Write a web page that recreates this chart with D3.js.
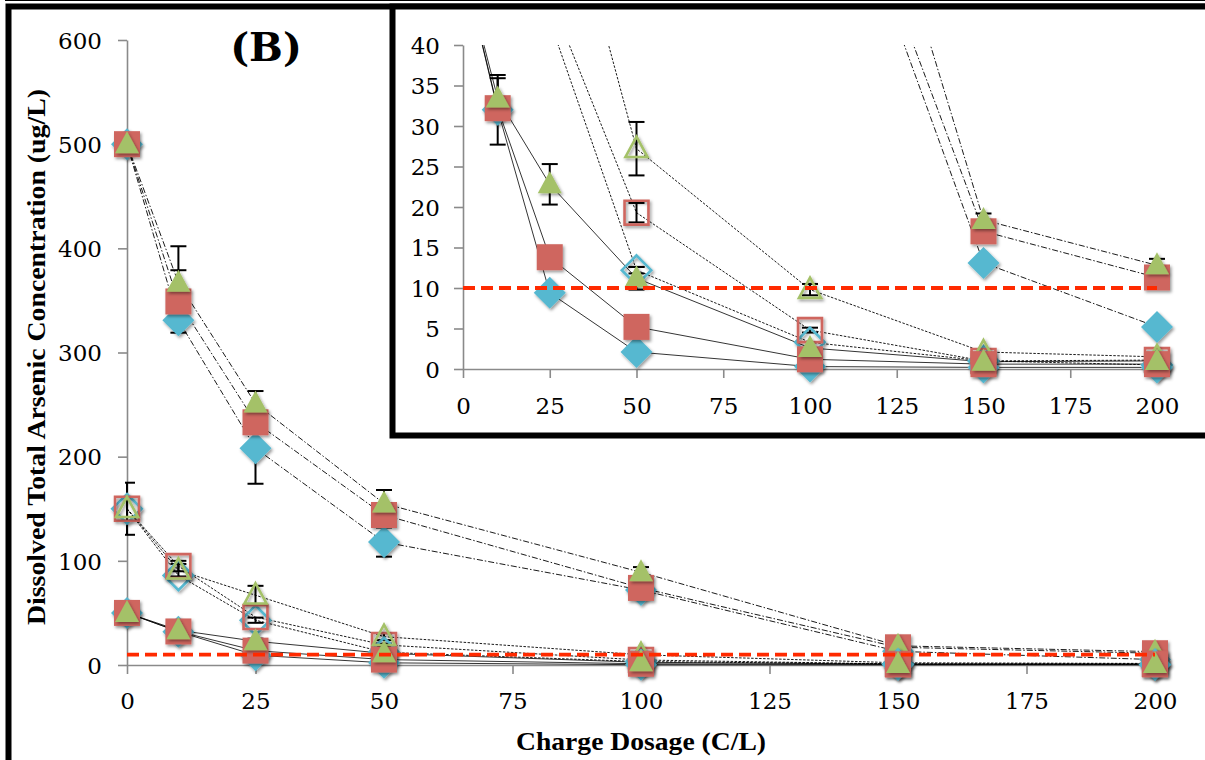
<!DOCTYPE html>
<html>
<head>
<meta charset="utf-8">
<script src="https://cdn.jsdelivr.net/npm/d3@7"></script>
<style>
body { margin: 0; background: #fff; }
svg { display: block; }
</style>
</head>
<body>
<svg id="chart" width="1205" height="760"></svg>
<script>

// Data

var dosage = [0, 10, 25, 50, 100, 150, 200];
var xTicks = [0, 25, 50, 75, 100, 125, 150, 175, 200];
var mainYTicks = [0, 100, 200, 300, 400, 500, 600];
var insetYTicks = [0, 5, 10, 15, 20, 25, 30, 35, 40];
var limitLevel = 10;

// initial 500 ug/L
var as500Diamond  = [500, 331, 208, 118, 72, 13.1, 5.2];
var as500Square   = [500, 349, 233, 144, 74, 17.0, 11.3];
var as500Triangle = [500, 367, 251, 155, 89, 18.4, 12.8];
var err500Diamond  = [null, null, 34, 14, null, null, null];
var err500Square   = [null, 30, null, null, null, null, null];
var err500Triangle = [null, 35, 12, 13, 5, 0.8, 0.8];

// initial 150 ug/L
var as150Diamond  = [150, 86, 43, 12.2, 3.3, 1.0, 0.5];
var as150Square   = [150, 95, 46, 19.3, 4.8, 1.0, 1.1];
var as150Triangle = [150, 91, 67, 27.2, 9.8, 2.1, 1.5];
var err150Diamond  = [null, null, 2.5, 0.4, null, null, null];
var err150Square   = [null, 5, null, 1.2, 0.3, null, null];
var err150Triangle = [25, 6, 9, 3.3, 0.7, null, null];

// initial 50 ug/L
var as50Diamond  = [50, 32.0, 9.4, 2.1, 0.3, 0.2, 0.2];
var as50Square   = [50, 32.2, 13.8, 5.2, 1.2, 0.6, 0.6];
var as50Triangle = [50, 33.4, 22.8, 11.2, 2.6, 0.9, 1.0];
var err50Diamond  = [null, 4.3, null, null, null, null, null];
var err50Square   = [null, null, null, null, null, null, null];
var err50Triangle = [null, 2.5, 2.5, 1.4, null, null, null];

var blue = "#57b8d0", red = "#cf665f", green = "#a4c167";

var series = [
	{values: as500Diamond,  errors: err500Diamond,  shape: "diamond",  color: blue,  hollow: false, dash: "6,2,1.5,2", width: 0.9},
	{values: as500Square,   errors: err500Square,   shape: "square",   color: red,   hollow: false, dash: "6,2,1.5,2", width: 0.9},
	{values: as500Triangle, errors: err500Triangle, shape: "triangle", color: green, hollow: false, dash: "6,2,1.5,2", width: 0.9},
	{values: as150Diamond,  errors: err150Diamond,  shape: "diamond",  color: blue,  hollow: true,  dash: "2.5,1.5", width: 0.9},
	{values: as150Square,   errors: err150Square,   shape: "square",   color: red,   hollow: true,  dash: "2.5,1.5", width: 0.9},
	{values: as150Triangle, errors: err150Triangle, shape: "triangle", color: green, hollow: true,  dash: "2.5,1.5", width: 0.9},
	{values: as50Diamond,   errors: err50Diamond,   shape: "diamond",  color: blue,  hollow: false, dash: null, width: 0.8},
	{values: as50Square,    errors: err50Square,    shape: "square",   color: red,   hollow: false, dash: null, width: 0.8},
	{values: as50Triangle,  errors: err50Triangle,  shape: "triangle", color: green, hollow: false, dash: null, width: 0.8}
];

series.forEach(function (s) {
	s.points = dosage.map(function (d, i) {
		return {x: d, y: s.values[i], e: s.errors[i]};
	});
});

var svg = d3.select("#chart");

var defs = svg.append("defs");

defs.append("filter")
	.attr("id", "shadow")
	.attr("x", "-50%").attr("y", "-50%").attr("width", "200%").attr("height", "200%")
	.append("feDropShadow")
	.attr("dx", 1.5).attr("dy", 2)
	.attr("stdDeviation", 1.6)
	.attr("flood-color", "#000")
	.attr("flood-opacity", 0.4);

function markerPath(shape, hollow) {
	var k = hollow ? 0.92 : 1;
	if (shape == "diamond") {
		var r = 16 * k;
		return "M0," + (-r) + "L" + r + ",0L0," + r + "L" + (-r) + ",0Z";
	}
	if (shape == "square") {
		var a = 13 * k;
		return "M" + (-a) + "," + (-a) + "H" + a + "V" + a + "H" + (-a) + "Z";
	}
	var h = 12 * k;
	return "M0," + (-13 * k) + "L" + h + "," + (9 * k) + "L" + (-h) + "," + (9 * k) + "Z";
}

function drawPanel(g, x, y, yTicks, yMax, clipId, labelRight, xLabelY) {

	var clip = defs.append("clipPath").attr("id", clipId);
	clip.append("rect")
		.attr("x", x(0) - 2)
		.attr("y", y(yMax))
		.attr("width", x(200) - x(0) + 20)
		.attr("height", y(0) - y(yMax) + 30);

	// Axes

	var yAxis = g.append("g")
		.attr("transform", "translate(" + x(0) + ",0)")
		.call(d3.axisLeft(y).tickValues(yTicks).tickSize(9).tickSizeOuter(0).tickFormat(d3.format("d")));

	var xAxis = g.append("g")
		.attr("transform", "translate(0," + y(0) + ")")
		.call(d3.axisBottom(x).tickValues(xTicks).tickSize(9).tickSizeOuter(0).tickFormat(d3.format("d")));

	g.selectAll(".domain, .tick line")
		.attr("stroke", "#8a8a8a")
		.attr("stroke-width", 1.6);

	yAxis.selectAll("text")
		.attr("x", labelRight - x(0))
		.attr("dy", "0.36em");

	xAxis.selectAll("text")
		.attr("y", xLabelY - y(0))
		.attr("dy", 0);

	g.selectAll(".tick text")
		.attr("fill", "#000")
		.style("font-family", "'DejaVu Serif', serif")
		.style("font-size", "23px");

	// Lines

	var line = d3.line()
		.x(function (d) { return x(d.x); })
		.y(function (d) { return y(d.y); });

	var lines = g.append("g").attr("clip-path", "url(#" + clipId + ")");

	lines.selectAll("path")
		.data(series)
		.enter().append("path")
		.attr("d", function (s) { return line(s.points); })
		.attr("fill", "none")
		.attr("stroke", "#000")
		.attr("stroke-width", function (s) { return s.width; })
		.attr("stroke-dasharray", function (s) { return s.dash; });

	// Error bars

	var errs = [];
	series.forEach(function (s) {
		s.points.forEach(function (p) {
			if (p.e != null && p.y <= yMax) errs.push(p);
		});
	});

	var bars = g.append("g").attr("clip-path", "url(#" + clipId + ")")
		.selectAll("g")
		.data(errs)
		.enter().append("g")
		.attr("stroke", "#000")
		.attr("stroke-width", 2);

	bars.append("line")
		.attr("x1", function (d) { return x(d.x); })
		.attr("x2", function (d) { return x(d.x); })
		.attr("y1", function (d) { return y(d.y - d.e); })
		.attr("y2", function (d) { return y(Math.min(d.y + d.e, yMax)); });

	bars.append("line")
		.attr("x1", function (d) { return x(d.x) - 8; })
		.attr("x2", function (d) { return x(d.x) + 8; })
		.attr("y1", function (d) { return y(d.y - d.e); })
		.attr("y2", function (d) { return y(d.y - d.e); });

	bars.filter(function (d) { return d.y + d.e <= yMax; })
		.append("line")
		.attr("x1", function (d) { return x(d.x) - 8; })
		.attr("x2", function (d) { return x(d.x) + 8; })
		.attr("y1", function (d) { return y(d.y + d.e); })
		.attr("y2", function (d) { return y(d.y + d.e); });

	// Markers

	series.forEach(function (s) {
		g.append("g")
			.selectAll("path")
			.data(s.points.filter(function (p) { return p.y <= yMax; }))
			.enter().append("path")
			.attr("transform", function (d) { return "translate(" + x(d.x) + "," + y(d.y) + ")"; })
			.attr("d", markerPath(s.shape, s.hollow))
			.attr("fill", s.hollow ? "none" : s.color)
			.attr("stroke", s.hollow ? s.color : "none")
			.attr("stroke-width", s.hollow ? 2.6 : 0)
			.attr("filter", "url(#shadow)");
	});

	// Limit line (10 ug/L)

	g.append("path")
		.attr("d", line([{x: 0, y: limitLevel}, {x: 200, y: limitLevel}]))
		.attr("fill", "none")
		.attr("stroke", "#ff2a00")
		.attr("stroke-width", 3.8)
		.attr("stroke-dasharray", "12,6");
}

// Main chart

var xMain = d3.scaleLinear().domain([0, 200]).range([127, 1155]);
var yMain = d3.scaleLinear().domain([0, 600]).range([665, 40]);

var main = svg.append("g");
drawPanel(main, xMain, yMain, mainYTicks, 600, "clipMain", 102, 709);

main.append("text")
	.attr("x", 266)
	.attr("y", 61)
	.attr("text-anchor", "middle")
	.style("font-family", "'DejaVu Serif', serif")
	.style("font-weight", "bold")
	.style("font-size", "40px")
	.text("(B)");

main.append("text")
	.attr("transform", "translate(45,357) rotate(-90)")
	.attr("text-anchor", "middle")
	.attr("textLength", 536)
	.attr("lengthAdjust", "spacingAndGlyphs")
	.style("font-family", "'Liberation Serif', serif")
	.style("font-weight", "bold")
	.style("font-size", "26px")
	.text("Dissolved Total Arsenic Concentration (ug/L)");

main.append("text")
	.attr("x", 641)
	.attr("y", 750)
	.attr("text-anchor", "middle")
	.attr("textLength", 250)
	.attr("lengthAdjust", "spacingAndGlyphs")
	.style("font-family", "'Liberation Serif', serif")
	.style("font-weight", "bold")
	.style("font-size", "26px")
	.text("Charge Dosage (C/L)");

// Outer frame

svg.append("line")
	.attr("x1", 5).attr("x2", 1205)
	.attr("y1", 0.5).attr("y2", 0.5)
	.attr("stroke", "#000").attr("stroke-width", 1.2);

svg.append("rect")
	.attr("x", 8.5).attr("y", 6.5)
	.attr("width", 1300).attr("height", 900)
	.attr("fill", "none")
	.attr("stroke", "#000")
	.attr("stroke-width", 6);

// Inset chart

svg.append("rect")
	.attr("x", 392.5).attr("y", 6.5)
	.attr("width", 900).attr("height", 429)
	.attr("fill", "#fff")
	.attr("stroke", "#000")
	.attr("stroke-width", 6);

var xInset = d3.scaleLinear().domain([0, 200]).range([463, 1157]);
var yInset = d3.scaleLinear().domain([0, 40]).range([369, 45]);

var inset = svg.append("g");
drawPanel(inset, xInset, yInset, insetYTicks, 40, "clipInset", 440, 414);

</script>
</body>
</html>
